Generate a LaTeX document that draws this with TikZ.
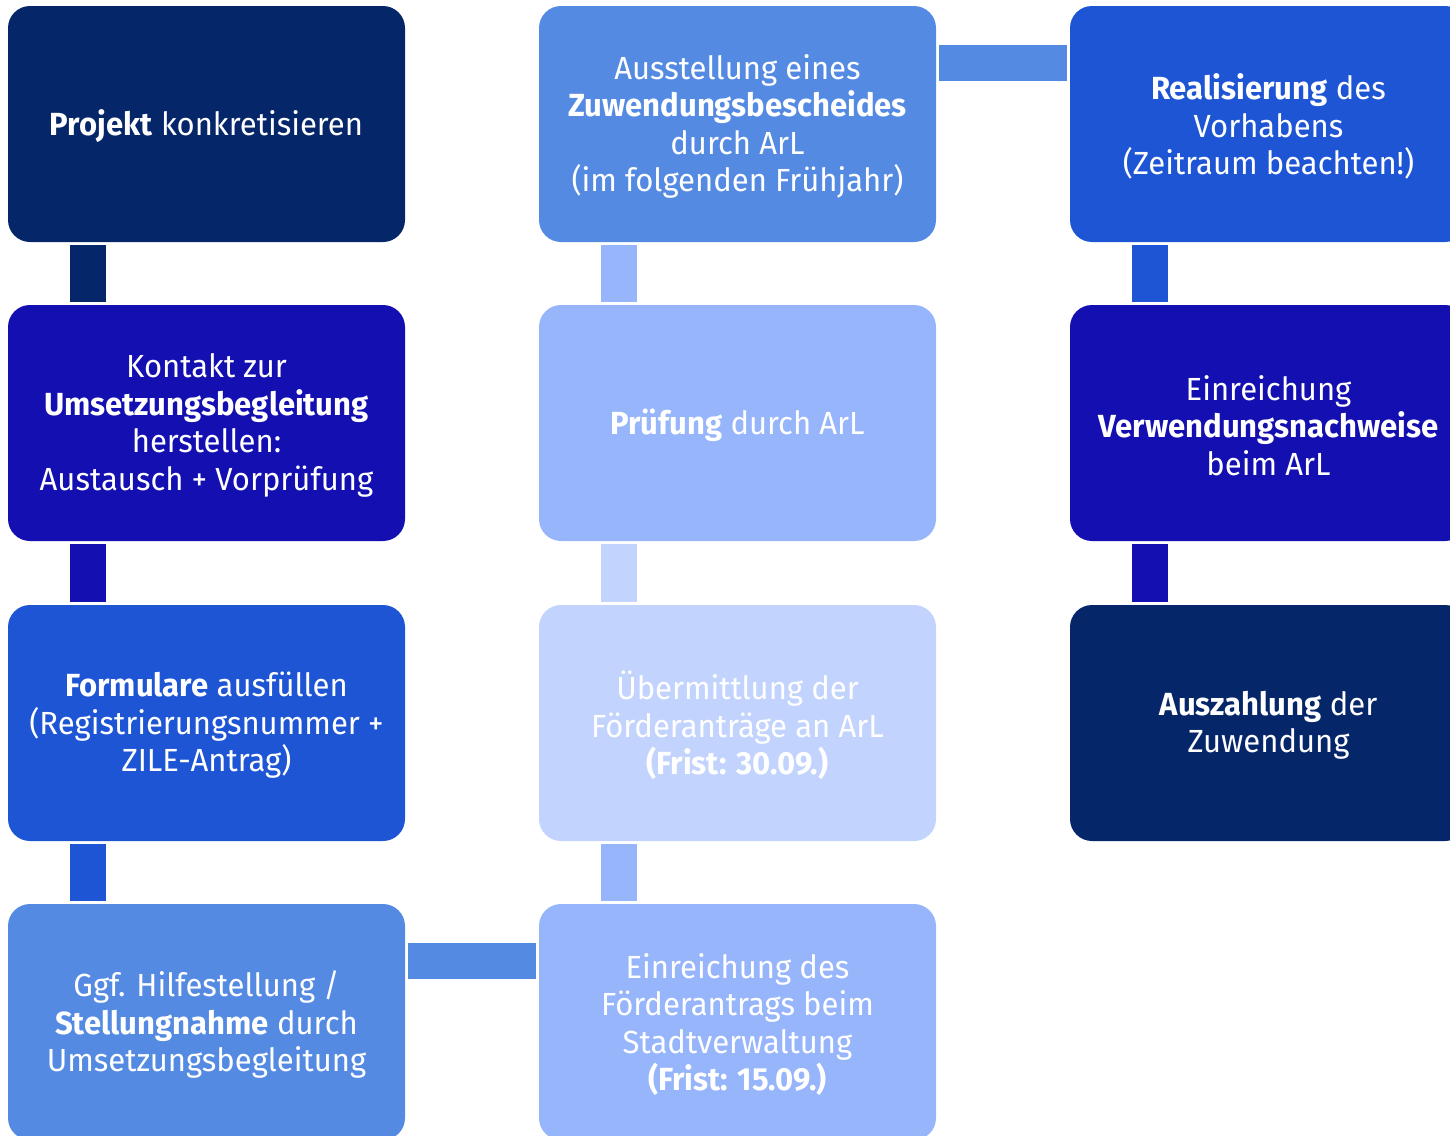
\documentclass[tikz,border=0pt]{standalone}
\usepackage{fontspec}
\setmainfont{Fira Sans}[FakeStretch=0.97]
\definecolor{cA}{HTML}{06266A}
\definecolor{cB}{HTML}{130FB0}
\definecolor{cC}{HTML}{1E55D4}
\definecolor{cD}{HTML}{548AE2}
\definecolor{cE}{HTML}{97B5FB}
\definecolor{cF}{HTML}{C2D4FD}
\tikzset{
  box/.style={rounded corners=22pt, minimum width=397pt, minimum height=236pt,
    inner sep=0pt, draw=none},
  txt/.style={inner sep=0pt, align=center, text=white,
    font=\fontsize{32}{37.5}\selectfont},
  link/.style={line width=36pt, shorten <=3pt, shorten >=3pt}
}
\begin{document}
\begin{tikzpicture}[x=1pt,y=-1pt]
\useasboundingbox (0,0) rectangle (1450,1135);
\clip (0,0) rectangle (1450,1135);
% boxes
\node[box, fill=cA] (n1) at (206.5,124) {};
\node[box, fill=cB] (n2) at (206.5,423) {};
\node[box, fill=cC] (n3) at (206.5,723) {};
\node[box, fill=cD] (n4) at (206.5,1022) {};
\node[box, fill=cE] (n5) at (737.5,1022) {};
\node[box, fill=cF] (n6) at (737.5,723) {};
\node[box, fill=cE] (n7) at (737.5,423) {};
\node[box, fill=cD] (n8) at (737.5,124) {};
\node[box, fill=cC] (n9) at (1268.5,124) {};
\node[box, fill=cB] (n10) at (1268.5,423) {};
\node[box, fill=cA] (n11) at (1268.5,723) {};
% texts
\node[txt] (t1) at ([yshift=-2.5pt]n1.center) {\textbf{Projekt} konkretisieren};
\node[txt] (t2) at ([yshift=-2.5pt]n2.center) {Kontakt zur\\\textbf{Umsetzungsbegleitung}\\herstellen:\\Austausch + Vorprüfung};
\node[txt] (t3) at ([yshift=-2.5pt]n3.center) {\textbf{Formulare} ausfüllen\\(Registrierungsnummer +\\ZILE-Antrag)};
\node[txt] (t4) at ([yshift=-2.5pt]n4.center) {Ggf. Hilfestellung /\\\textbf{Stellungnahme} durch\\Umsetzungsbegleitung};
\node[txt] (t5) at ([yshift=-2.5pt]n5.center) {Einreichung des\\Förderantrags beim\\Stadtverwaltung\\\textbf{(Frist: 15.09.)}};
\node[txt] (t6) at ([yshift=-2.5pt]n6.center) {Übermittlung der\\Förderanträge an ArL\\\textbf{(Frist: 30.09.)}};
\node[txt] (t7) at ([yshift=-2.5pt]n7.center) {\textbf{Prüfung} durch ArL};
\node[txt] (t8) at ([yshift=-2.5pt]n8.center) {Ausstellung eines\\\textbf{Zuwendungsbescheides}\\durch ArL\\(im folgenden Frühjahr)};
\node[txt] (t9) at ([yshift=-2.5pt]n9.center) {\textbf{Realisierung} des\\Vorhabens\\(Zeitraum beachten!)};
\node[txt] (t10) at ([yshift=-2.5pt]n10.center) {Einreichung\\\textbf{Verwendungsnachweise}\\beim ArL};
\node[txt] (t11) at ([yshift=-2.5pt]n11.center) {\textbf{Auszahlung} der\\Zuwendung};
% connectors
\draw[link, cA] ([xshift=-119pt]n1.south) -- ([xshift=-119pt]n2.north);
\draw[link, cB] ([xshift=-119pt]n2.south) -- ([xshift=-119pt]n3.north);
\draw[link, cC] ([xshift=-119pt]n3.south) -- ([xshift=-119pt]n4.north);
\draw[link, cD] ([yshift=61pt]n4.east) -- ([yshift=61pt]n5.west);
\draw[link, cE] ([xshift=-119pt]n5.north) -- ([xshift=-119pt]n6.south);
\draw[link, cF] ([xshift=-119pt]n6.north) -- ([xshift=-119pt]n7.south);
\draw[link, cE] ([xshift=-119pt]n7.north) -- ([xshift=-119pt]n8.south);
\draw[link, cD] ([yshift=61.5pt]n8.east) -- ([yshift=61.5pt]n9.west);
\draw[link, cC] ([xshift=-119pt]n9.south) -- ([xshift=-119pt]n10.north);
\draw[link, cB] ([xshift=-119pt]n10.south) -- ([xshift=-119pt]n11.north);
\end{tikzpicture}
\end{document}
